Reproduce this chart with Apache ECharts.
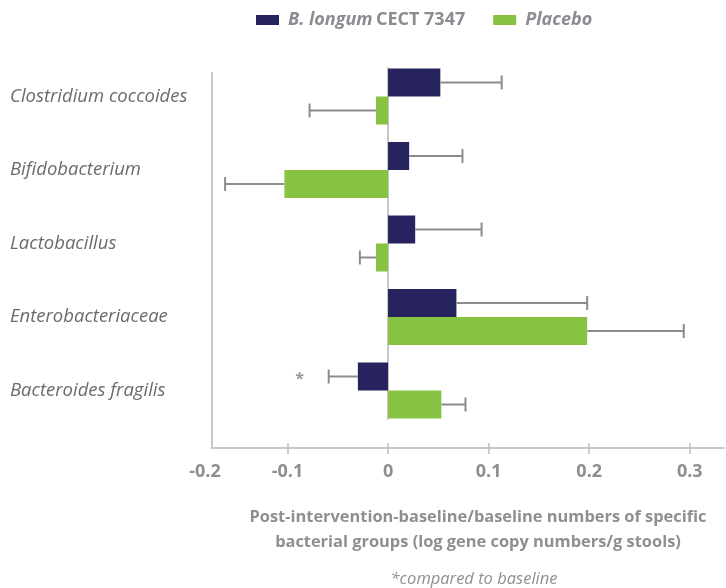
<!DOCTYPE html>
<html><head><meta charset="utf-8">
<script src="https://cdn.jsdelivr.net/npm/echarts@6/dist/echarts.min.js"></script>
<style>html,body{margin:0;padding:0;background:#fff}#c{width:726px;height:588px}</style>
</head><body><div id="c"></div>
<script>
const categories = ['Clostridium coccoides', 'Bifidobacterium', 'Lactobacillus', 'Enterobacteriaceae', 'Bacteroides fragilis'];
const seriesNames = ['B. longum CECT 7347', 'Placebo'];
const longumValues = [0.052, 0.021, 0.027, 0.068, -0.030];
const longumErrors = [0.061, 0.053, 0.066, 0.130, 0.029];
const longumMarks = ['', '', '', '', '*'];
const placeboValues = [-0.012, -0.103, -0.012, 0.198, 0.053];
const placeboErrors = [0.066, 0.059, 0.016, 0.096, 0.024];
const placeboMarks = ['', '', '', '', ''];
const axisMin = -0.175;
const axisMax = 0.334;
const tickValues = [-0.1, 0, 0.1, 0.2, 0.3];
const labelValues = [axisMin, -0.1, 0, 0.1, 0.2, 0.3];
const tickLabels = ['-0.2', '-0.1', '0', '0.1', '0.2', '0.3'];
const axisTitle = 'Post-intervention-baseline/baseline numbers of specific\nbacterial groups (log gene copy numbers/g stools)';
const footnote = '*compared to baseline';

const BAR_W = 28;
const NAVY = '#27235e', GREEN = '#86c342';
const GRAY_LINE = '#c8c8c8';

function errRender(seriesIdx, marks) {
  return function (params, api) {
    const v = api.value(0), cat = api.value(1), e = api.value(2);
    const dir = v >= 0 ? 1 : -1;
    const start = api.coord([v, cat]);
    const end = api.coord([v + dir * e, cat]);
    const off = (seriesIdx === 0 ? -1 : 1) * BAR_W / 2;
    const y = start[1] + off;
    const children = [
      { type: 'line', shape: { x1: start[0], y1: y, x2: end[0], y2: y }, style: { stroke: '#8c8c8c', lineWidth: 2 } },
      { type: 'line', shape: { x1: end[0], y1: y - 7, x2: end[0], y2: y + 7 }, style: { stroke: '#8c8c8c', lineWidth: 2 } }
    ];
    const m = marks[params.dataIndex];
    if (m) {
      children.push({ type: 'text', style: { text: m, x: end[0] - 29, y: y + 3, align: 'center', verticalAlign: 'middle', fill: '#9a9a9a', font: 'bold 16px "Open Sans"' } });
    }
    return { type: 'group', children };
  };
}

function errData(values, errors) {
  return values.map((v, i) => [v, i, errors[i]]);
}

const labelFmt = function (v) {
  let best = 0, bd = Infinity;
  labelValues.forEach((lv, i) => { const d = Math.abs(lv - v); if (d < bd) { bd = d; best = i; } });
  return best === 0 ? '{l|' + tickLabels[0] + '}' : tickLabels[best];
};

const hidden = { axisLine: { show: false, onZero: false }, axisTick: { show: false }, axisLabel: { show: false }, splitLine: { show: false } };

const chart = echarts.init(document.getElementById('c'), null, { renderer: 'canvas' });
chart.setOption({
  animation: false,
  backgroundColor: '#fff',
  legend: {
    data: seriesNames,
    left: 256, top: 11, padding: 0,
    itemWidth: 23, itemHeight: 10, itemGap: 28,
    icon: 'rect',
    formatter: function (name) {
      return name === seriesNames[0] ? '{i|B. longum} {n|CECT 7347}' : '{i|Placebo}';
    },
    textStyle: {
      rich: {
        i: { fontFamily: 'Open Sans', fontSize: 18, fontWeight: 'bold', fontStyle: 'italic', color: '#8b8b91', padding: [0, 0, 0, 4] },
        n: { fontFamily: 'Open Sans', fontSize: 18, fontWeight: 'bold', color: '#8b8b91' }
      }
    }
  },
  grid: [
    { left: 212, right: 2, top: 59.75, height: 367.5, containLabel: false, outerBoundsMode: 'none' },
    { left: 212, right: 2, top: 73, height: 375, containLabel: false, outerBoundsMode: 'none' },
    { left: 212, right: 2, top: 68, height: 351, containLabel: false, outerBoundsMode: 'none' }
  ],
  xAxis: [
    Object.assign({ gridIndex: 0, type: 'value', min: axisMin, max: axisMax, position: 'bottom' }, hidden),
    {
      gridIndex: 1, type: 'value', min: axisMin, max: axisMax, position: 'bottom',
      axisLine: { show: true, onZero: false, lineStyle: { color: GRAY_LINE, width: 2 } },
      axisTick: { show: true, customValues: tickValues, length: 6, lineStyle: { color: '#bdbdbd', width: 1.5 } },
      axisLabel: {
        customValues: labelValues, formatter: labelFmt, margin: 15,
        fontFamily: 'Open Sans', fontSize: 18, fontWeight: 'bold', color: '#8e8e94',
        rich: { l: { fontFamily: 'Open Sans', fontSize: 18, fontWeight: 'bold', color: '#8e8e94', padding: [0, 14, 0, 0] } }
      },
      splitLine: { show: false }
    },
    {
      gridIndex: 1, type: 'value', min: axisMin, max: axisMax, position: 'bottom',
      axisLine: { show: false, onZero: false },
      axisTick: { show: true, inside: true, customValues: tickValues, length: 5, lineStyle: { color: '#bdbdbd', width: 1.5 } },
      axisLabel: { show: false },
      splitLine: { show: false }
    },
    Object.assign({ gridIndex: 2, type: 'value', min: axisMin, max: axisMax, position: 'bottom' }, hidden)
  ],
  yAxis: [
    {
      gridIndex: 0, type: 'category', data: categories, inverse: true,
      axisLine: { show: false, onZero: false },
      axisTick: { show: false },
      axisLabel: { align: 'left', margin: 202, padding: [6, 0, 0, 0], fontFamily: 'Open Sans', fontSize: 18.5, fontStyle: 'italic', color: '#6b6b6b' }
    },
    {
      gridIndex: 1, type: 'value', min: 0, max: 1, position: 'left',
      axisLine: { show: true, onZero: false, lineStyle: { color: GRAY_LINE, width: 2 } },
      axisTick: { show: false }, axisLabel: { show: false }, splitLine: { show: false }
    },
    {
      gridIndex: 2, type: 'value', min: 0, max: 1,
      axisLine: { show: true, onZero: true, lineStyle: { color: GRAY_LINE, width: 2 } },
      axisTick: { show: false }, axisLabel: { show: false }, splitLine: { show: false }
    }
  ],
  graphic: [
    { type: 'text', x: 478, y: 505, style: { text: axisTitle, align: 'center', verticalAlign: 'top', fill: '#8f8f92', font: 'bold 16.4px "Open Sans"', lineHeight: 25 } },
    { type: 'text', x: 474, y: 571, style: { text: footnote, align: 'center', verticalAlign: 'top', fill: '#909090', font: 'italic 16.5px "Open Sans"' } }
  ],
  series: [
    { name: seriesNames[0], type: 'bar', xAxisIndex: 0, yAxisIndex: 0, data: longumValues, barWidth: BAR_W, barGap: '0%', itemStyle: { color: NAVY }, z: 3 },
    { name: seriesNames[1], type: 'bar', xAxisIndex: 0, yAxisIndex: 0, data: placeboValues, barWidth: BAR_W, barGap: '0%', itemStyle: { color: GREEN }, z: 3 },
    { type: 'custom', xAxisIndex: 0, yAxisIndex: 0, encode: { x: 0, y: 1 }, renderItem: errRender(0, longumMarks), data: errData(longumValues, longumErrors), z: 4 },
    { type: 'custom', xAxisIndex: 0, yAxisIndex: 0, encode: { x: 0, y: 1 }, renderItem: errRender(1, placeboMarks), data: errData(placeboValues, placeboErrors), z: 4 }
  ]
});
</script></body></html>
